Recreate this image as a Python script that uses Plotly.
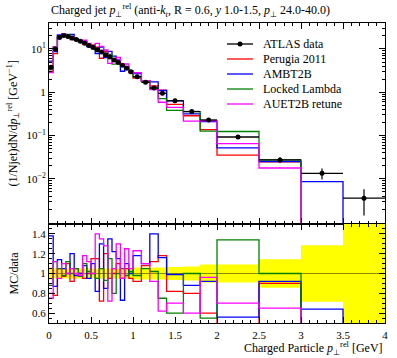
import plotly.graph_objects as go

# ---- data ----
bin_edges = [0.0, 0.05, 0.1, 0.15, 0.2, 0.25, 0.3, 0.35, 0.4, 0.45, 0.5,
             0.55, 0.6, 0.65, 0.7, 0.75, 0.8, 0.85, 0.9, 0.95, 1.0,
             1.1, 1.2, 1.3, 1.4, 1.6, 1.8, 2.0, 2.5, 3.0, 3.5, 4.0]

atlas_data = [3.8, 10.0, 18.5, 20.5, 19.5, 18.0, 16.5, 15.0, 13.5, 12.0,
              10.8, 9.6, 8.5, 7.4, 6.5, 5.6, 4.9, 4.2, 3.6, 3.0,
              2.3, 1.7, 1.25, 0.95, 0.64, 0.36, 0.23, 0.093, 0.0275, 0.0135, 0.0036]

atlas_relerr = [0.06, 0.05, 0.05, 0.05, 0.05, 0.05, 0.05, 0.05, 0.05, 0.05,
                0.05, 0.05, 0.05, 0.05, 0.05, 0.05, 0.05, 0.05, 0.05, 0.05,
                0.06, 0.06, 0.06, 0.06, 0.065, 0.07, 0.09, 0.09, 0.145, 0.285, 0.6]

ratio_perugia = [0.80, 0.78, 1.05, 0.97, 1.10, 0.92, 1.05, 1.00, 0.95, 1.00,
                 1.15, 1.15, 0.72, 1.20, 0.95, 1.00, 1.10, 0.95, 1.05, 0.95,
                 0.92, 1.08, 1.12, 1.18, 0.82, 0.80, 0.60, 0.38, 0.90, 0.0, 0.0]
ratio_ambt2b = [1.38, 0.87, 1.14, 1.05, 1.00, 1.20, 0.98, 1.00, 1.08, 0.95,
                1.10, 0.82, 1.30, 0.85, 1.35, 1.22, 1.15, 0.73, 1.10, 1.00,
                1.18, 1.10, 1.40, 1.16, 0.99, 0.88, 0.92, 0.56, 0.92, 0.64, 0.0]
ratio_locked = [0.88, 1.12, 1.05, 0.98, 1.12, 1.00, 1.05, 0.97, 1.10, 1.02,
                1.00, 0.95, 1.05, 0.93, 1.15, 0.80, 1.00, 1.05, 0.98, 1.02,
                0.98, 1.05, 1.02, 0.75, 0.60, 1.00, 0.55, 1.34, 1.00, 0.0, 0.0]
ratio_auet2b = [0.75, 1.12, 0.95, 1.10, 1.00, 1.05, 1.00, 0.98, 1.18, 1.12,
                1.00, 1.40, 1.35, 1.28, 0.72, 1.05, 1.30, 0.95, 1.25, 1.05,
                1.23, 1.10, 0.92, 0.62, 0.70, 0.60, 0.96, 0.70, 0.65, 0.0, 0.0]

legend_labels = ["ATLAS data", "Perugia 2011", "AMBT2B", "Locked Lambda", "AUET2B retune"]
series_names = legend_labels[1:]
series_ratios = [ratio_perugia, ratio_ambt2b, ratio_locked, ratio_auet2b]
series_colors = ["#ff0000", "#0000ff", "#008000", "#ff00ff"]

FONT = "Liberation Serif"

lo = bin_edges[:-1]
hi = bin_edges[1:]
centers = [(a + b) / 2 for a, b in zip(lo, hi)]
TINY = 1e-9

# plot-area geometry (pixels) used for placing the hand-drawn legend
L, R, T, B = 49, 12, 23, 35
W, H = 397, 358
PW, PH = W - L - R, H - T - B


def px_x(p):
    return (p - L) / PW


def px_y(p):
    return 1 - (p - T) / PH


def step_y(vals):
    return list(vals) + [vals[-1]]


fig = go.Figure()

# ---------------- main panel ----------------
for name, rat, col in zip(series_names, series_ratios, series_colors):
    mc = [d * r if d * r > 0 else TINY for d, r in zip(atlas_data, rat)]
    fig.add_trace(go.Scatter(x=bin_edges, y=step_y(mc), mode="lines",
                             line=dict(color=col, width=1.3, shape="hv"),
                             name=name, showlegend=False, xaxis="x", yaxis="y"))

seg_x, seg_y = [], []
for a, b, v in zip(lo, hi, atlas_data):
    seg_x += [a, b, None]
    seg_y += [v, v, None]
fig.add_trace(go.Scatter(x=seg_x, y=seg_y, mode="lines",
                         line=dict(color="black", width=1.3),
                         showlegend=False, xaxis="x", yaxis="y"))
fig.add_trace(go.Scatter(x=centers, y=atlas_data, mode="markers",
                         marker=dict(color="black", size=5),
                         error_y=dict(type="data",
                                      array=[d * e for d, e in zip(atlas_data, atlas_relerr)],
                                      color="black", thickness=1.2, width=0),
                         name="ATLAS data", showlegend=False, xaxis="x", yaxis="y"))

# ---------------- ratio panel ----------------
band_lo = [1 - e for e in atlas_relerr]
band_hi = [1 + e for e in atlas_relerr]
fig.add_trace(go.Scatter(x=bin_edges, y=step_y(band_lo), mode="lines",
                         line=dict(width=0, shape="hv", color="yellow"),
                         showlegend=False, xaxis="x2", yaxis="y2"))
fig.add_trace(go.Scatter(x=bin_edges, y=step_y(band_hi), mode="lines",
                         line=dict(width=0, shape="hv", color="yellow"),
                         fill="tonexty", fillcolor="#ffff00",
                         showlegend=False, xaxis="x2", yaxis="y2"))
fig.add_trace(go.Scatter(x=[bin_edges[0], bin_edges[-1]], y=[1, 1], mode="lines",
                         line=dict(color="rgba(0,0,0,0.45)", width=1),
                         showlegend=False, xaxis="x2", yaxis="y2"))
for name, rat, col in zip(series_names, series_ratios, series_colors):
    fig.add_trace(go.Scatter(x=bin_edges, y=step_y(rat), mode="lines",
                             line=dict(color=col, width=1.3, shape="hv"),
                             showlegend=False, xaxis="x2", yaxis="y2"))

# ---------------- hand-drawn legend ----------------
shapes = []
annotations = []
legend_colors = ["black"] + series_colors
for i, (lab, col) in enumerate(zip(legend_labels, legend_colors)):
    yy = px_y(44 + 15 * i)
    shapes.append(dict(type="line", xref="paper", yref="paper",
                       x0=px_x(227), x1=px_x(253), y0=yy, y1=yy,
                       line=dict(color=col, width=1.3)))
    if i == 0:
        shapes.append(dict(type="circle", xref="paper", yref="paper",
                           x0=px_x(237.5), x1=px_x(242.5),
                           y0=yy - 2.5 / PH, y1=yy + 2.5 / PH,
                           fillcolor="black", line=dict(color="black", width=0)))
    annotations.append(dict(text=lab, xref="paper", yref="paper",
                            x=px_x(261), y=yy, xanchor="left", yanchor="middle",
                            showarrow=False,
                            font=dict(family=FONT, size=12, color="black")))

tickfont = dict(family=FONT, size=11, color="black")
axis_common = dict(showline=True, linecolor="black", linewidth=1, mirror="allticks",
                   ticks="inside", tickcolor="black", ticklen=6, showgrid=False,
                   zeroline=False, tickfont=tickfont, automargin=False)

minor_log = [m * 10 ** k for k in range(-3, 2) for m in range(2, 10)]

annotations += [
    dict(text="Charged jet <i>p</i><sub>⊥</sub><sup>rel</sup> (anti-<i>k</i><sub><i>t</i></sub>, R = 0.6, <i>y</i> 1.0-1.5, <i>p</i><sub>⊥</sub> 24.0-40.0)",
         xref="paper", yref="paper", x=0, y=1, xanchor="left", yanchor="bottom",
         yshift=2, showarrow=False, font=dict(family=FONT, size=12, color="black")),
    dict(text="(1/Njet)dN/d<i>p</i><sub>⊥</sub><sup>rel</sup> [GeV<sup>−1</sup>]",
         xref="paper", yref="paper", x=px_x(13), y=0.665, textangle=-90,
         xanchor="center", yanchor="middle", showarrow=False,
         font=dict(family=FONT, size=12, color="black")),
    dict(text="MC/data", xref="paper", yref="paper", x=px_x(13), y=0.165,
         textangle=-90, xanchor="center", yanchor="middle", showarrow=False,
         font=dict(family=FONT, size=12, color="black")),
    dict(text="Charged Particle <i>p</i><sub>⊥</sub><sup>rel</sup> [GeV]",
         xref="paper", yref="paper", x=1, y=0, xanchor="right", yanchor="top",
         yshift=-15, showarrow=False, font=dict(family=FONT, size=12, color="black")),
]

fig.update_layout(
    width=W, height=H,
    margin=dict(l=L, r=R, t=T, b=B, autoexpand=False),
    paper_bgcolor="white", plot_bgcolor="white",
    showlegend=False,
    hovermode=False,
    xaxis=dict(domain=[0, 1], range=[0, 4], anchor="y", showticklabels=False,
               dtick=0.5, tick0=0,
               minor=dict(dtick=0.1, ticks="inside", ticklen=3, tickcolor="black"),
               **axis_common),
    yaxis=dict(domain=[0.33, 1], type="log", range=[-3.04, 1.6], anchor="x",
               tickvals=[0.01, 0.1, 1, 10],
               ticktext=["10<sup>−2</sup>", "10<sup>−1</sup>", "1", "10<sup>1</sup>"],
               minor=dict(tickvals=minor_log, ticks="inside", ticklen=3, tickcolor="black"),
               **axis_common),
    xaxis2=dict(domain=[0, 1], range=[0, 4], anchor="y2",
                tickvals=[0, 0.5, 1, 1.5, 2, 2.5, 3, 3.5, 4],
                ticktext=["0", "0.5", "1", "1.5", "2", "2.5", "3", "3.5", "4"],
                minor=dict(dtick=0.1, ticks="inside", ticklen=3, tickcolor="black"),
                ticklabelstandoff=2,
                **axis_common),
    yaxis2=dict(domain=[0, 0.33], range=[0.5, 1.5], anchor="x2",
                tickvals=[0.6, 0.8, 1.0, 1.2, 1.4],
                ticktext=["0.6", "0.8", "1", "1.2", "1.4"],
                minor=dict(dtick=0.05, tick0=0, ticks="inside", ticklen=3, tickcolor="black"),
                **axis_common),
    shapes=shapes,
    annotations=annotations,
)

fig.write_html("out.html", config={"displayModeBar": False, "staticPlot": True},
               post_script="document.body.style.margin='0px';")
